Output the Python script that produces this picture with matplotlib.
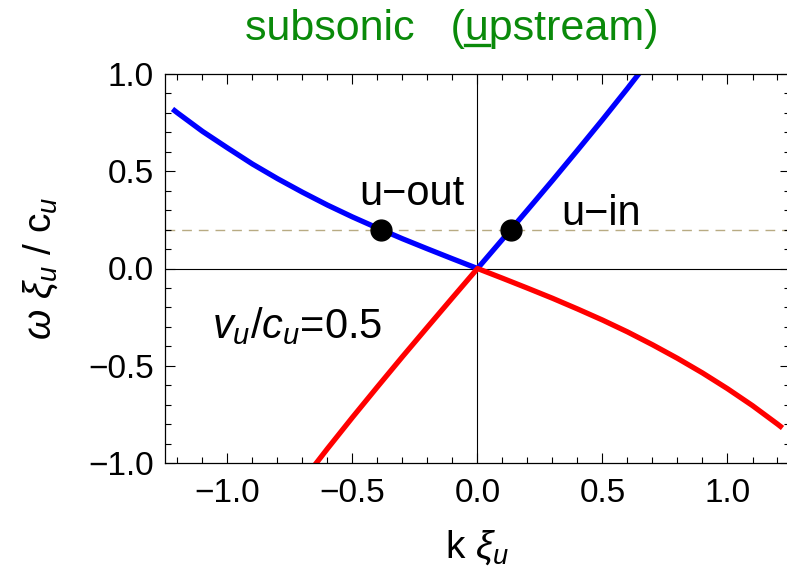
import matplotlib
matplotlib.use('agg')
import matplotlib.pyplot as plt
from matplotlib.ticker import MultipleLocator
from matplotlib.lines import Line2D

# branches of the dispersion relation, v/c = 0.5
k_blue = [-1.22, -1.2, -1.1, -1.0, -0.9, -0.8, -0.7, -0.6, -0.5, -0.4, -0.3, -0.2, -0.1, 0.0,
          0.1, 0.2, 0.3, 0.4, 0.5, 0.6, 0.7]
w_blue = [0.82, 0.80, 0.705, 0.62, 0.537, 0.462, 0.392, 0.326, 0.265, 0.208, 0.153, 0.101, 0.05, 0.0,
          0.15, 0.301, 0.453, 0.608, 0.765, 0.926, 1.092]
k_red = [-0.7, -0.6, -0.5, -0.4, -0.3, -0.2, -0.1, 0.0,
         0.1, 0.2, 0.3, 0.4, 0.5, 0.6, 0.7, 0.8, 0.9, 1.0, 1.1, 1.2, 1.22]
w_red = [-1.092, -0.926, -0.765, -0.608, -0.453, -0.301, -0.15, 0.0,
         -0.05, -0.101, -0.153, -0.208, -0.265, -0.326, -0.392, -0.462, -0.537, -0.618, -0.705, -0.80, -0.82]

omega0 = 0.2
k_modes = [-0.385, 0.133]
mode_names = ['u\u2212out', 'u\u2212in']

plt.rcParams['font.family'] = ['Liberation Sans', 'DejaVu Sans']
plt.rcParams['mathtext.fontset'] = 'custom'
plt.rcParams['mathtext.rm'] = 'Liberation Sans'
plt.rcParams['mathtext.it'] = 'Liberation Sans:italic'

fig = plt.figure(figsize=(7.87, 5.83), dpi=100)
ax = fig.add_axes([165 / 787, 120 / 583, 625 / 787, 389 / 583])

ax.axhline(0, color='black', lw=0.8, zorder=1)
ax.axvline(0, color='black', lw=0.8, zorder=1)
ax.axhline(omega0, color='#b8ab83', lw=1.0, dashes=(7, 5), zorder=1)

ax.plot(k_blue, w_blue, color='blue', lw=3.8, solid_capstyle='butt', zorder=2)
ax.plot(k_red, w_red, color='red', lw=3.8, solid_capstyle='butt', zorder=2)
ax.plot(k_modes, [omega0] * len(k_modes), 'o', color='black', ms=15, zorder=3)

ax.text(-0.472, 0.324, mode_names[0], fontsize=30, ha='left', va='baseline')
ax.text(0.336, 0.222, mode_names[1], fontsize=30, ha='left', va='baseline')
ax.text(-1.06, -0.36, r'$v_u/c_u$=0.5', fontsize=30, ha='left', va='baseline')

ax.set_xlim(-1.25, 1.25)
ax.set_ylim(-1, 1)
ax.xaxis.set_major_locator(MultipleLocator(0.5))
ax.xaxis.set_minor_locator(MultipleLocator(0.1))
ax.yaxis.set_major_locator(MultipleLocator(0.5))
ax.yaxis.set_minor_locator(MultipleLocator(0.1))
ax.xaxis.set_major_formatter(lambda v, p: f'{v:.1f}'.replace('-', '\u2212'))
ax.yaxis.set_major_formatter(lambda v, p: f'{v:.1f}'.replace('-', '\u2212'))
ax.tick_params(which='both', direction='in', top=True, right=True, width=0.8,
               colors='black', labelsize=24)
ax.tick_params(which='major', length=7)
ax.tick_params(which='minor', length=4)
ax.tick_params(axis='x', pad=11)
ax.tick_params(axis='y', pad=8)
for s in ax.spines.values():
    s.set_linewidth(0.9)
    s.set_color('black')

ax.set_xlabel(r'k $\xi_u$', fontsize=28, labelpad=14)
ax.set_ylabel(r'$\omega\ \xi_u$ / c$_u$', fontsize=28, labelpad=20)

# title with underlined "u"
green = '#0a8a0a'
prefix = 'subsonic   ('
title = fig.text(245 / 787, 1 - 40 / 583, prefix + 'upstream)', fontsize=31,
                 color=green, ha='left', va='baseline')
fig.canvas.draw()
r = fig.canvas.get_renderer()
tmp = fig.text(245 / 787, 1 - 40 / 583, prefix, fontsize=31, ha='left', va='baseline')
x0 = tmp.get_window_extent(r).x1
tmp.set_text(prefix + 'u')
x1 = tmp.get_window_extent(r).x1
tmp.remove()
yl = 583 - 45
fig.add_artist(Line2D([x0 / 787, x1 / 787], [yl / 583, yl / 583], color=green, lw=2.4,
                      transform=fig.transFigure))

fig.savefig('out.png', dpi=100)
